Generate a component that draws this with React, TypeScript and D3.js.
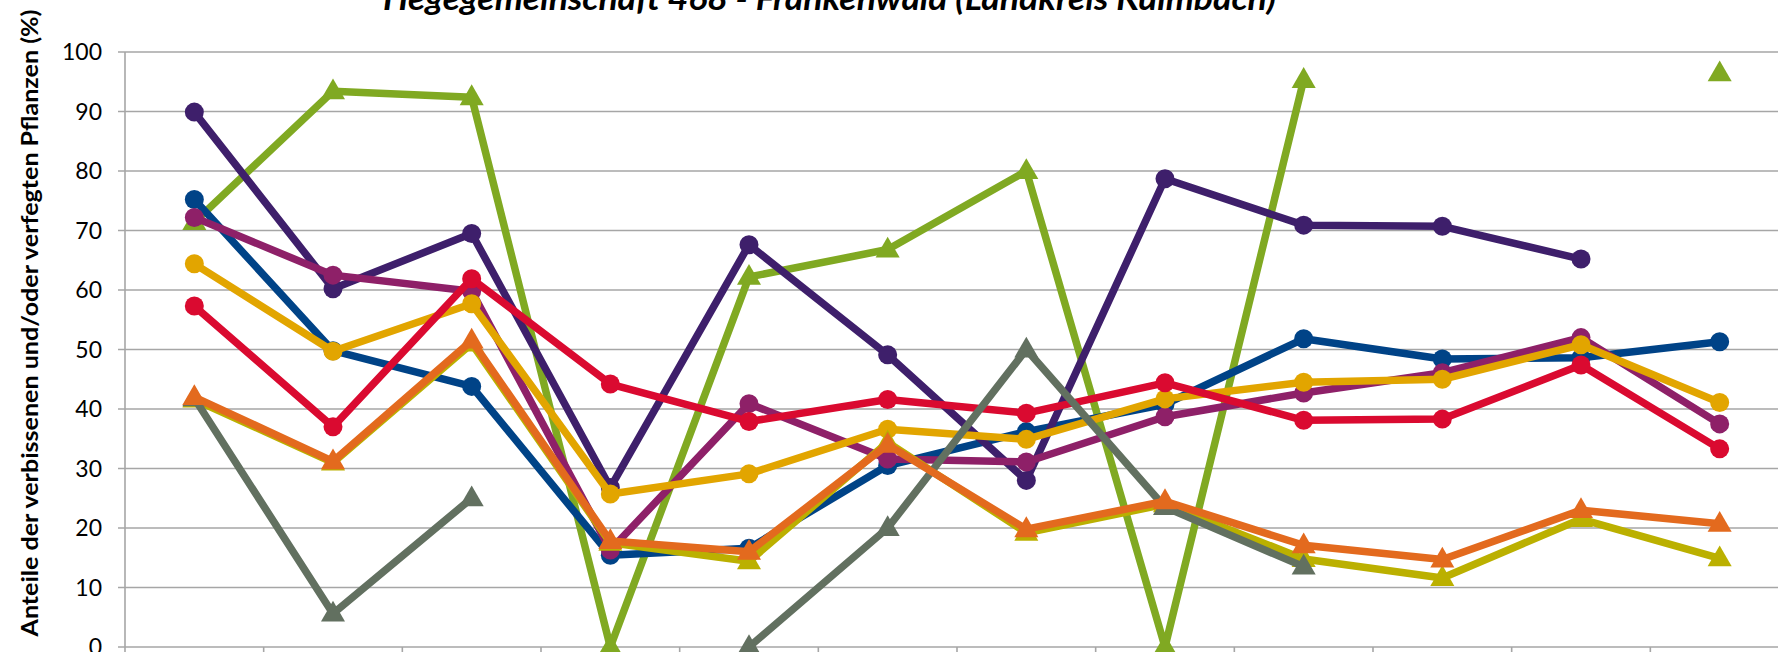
import React, { useEffect, useRef } from 'react';
import * as d3 from 'd3';

// Aufnahmejahre des Forstlichen Gutachtens (Beschriftung liegt außerhalb des Bildes)
const years = ['1991', '1994', '1997', '2000', '2003', '2006', '2009', '2012', '2015', '2018', '2021', '2024'];

const yTicks = [0, 10, 20, 30, 40, 50, 60, 70, 80, 90, 100];

type Val = number | null;

// Laubbäume (Kreise)
const buche: Val[] = [75.2, 49.8, 43.8, 15.4, 16.6, 30.5, 36.2, 40.8, 51.8, 48.4, 48.6, 51.3];
const eiche: Val[] = [89.9, 60.2, 69.5, 26.8, 67.6, 49.1, 28.0, 78.7, 70.9, 70.7, 65.2, null];
const edellaub: Val[] = [72.2, 62.5, 59.8, 16.3, 40.9, 31.6, 31.1, 38.7, 42.7, 46.1, 52.0, 37.5];
const laubGesamt: Val[] = [64.4, 49.7, 57.7, 25.7, 29.1, 36.6, 34.9, 41.7, 44.5, 45.0, 50.8, 41.1];
const sonstLaub: Val[] = [57.3, 37.0, 61.9, 44.2, 37.9, 41.6, 39.3, 44.4, 38.1, 38.3, 47.4, 33.3];

// Nadelbäume (Dreiecke)
const tanne: Val[] = [71.4, 93.4, 92.4, 0, 62.2, 66.8, 80.0, 0, 95.3, null, null, 96.4];
const kiefer: Val[] = [41.8, 5.6, 25.0, null, 0, 20.0, 50.0, 23.5, 13.5, null, null, null];
const nadelGesamt: Val[] = [41.6, 31.0, 51.0, 17.5, 14.4, 34.4, 19.2, 24.0, 14.8, 11.6, 21.5, 14.9];
const fichte: Val[] = [42.0, 31.2, 51.5, 17.8, 16.0, 34.0, 19.8, 24.5, 17.1, 14.7, 23.0, 20.7];

interface Series {
    name: string;
    values: Val[];
    color: string;
    shape: 'circle' | 'triangle';
}

// Zeichenreihenfolge: spätere liegen oben
const series: Series[] = [
    { name: 'Tanne', values: tanne, color: '#80a922', shape: 'triangle' },
    { name: 'Buche', values: buche, color: '#004387', shape: 'circle' },
    { name: 'Eiche', values: eiche, color: '#3e1f6b', shape: 'circle' },
    { name: 'Edellaubbäume', values: edellaub, color: '#8e2068', shape: 'circle' },
    { name: 'Laubbäume gesamt', values: laubGesamt, color: '#e2a500', shape: 'circle' },
    { name: 'Sonstige Laubbäume', values: sonstLaub, color: '#da0a30', shape: 'circle' },
    { name: 'Nadelbäume gesamt', values: nadelGesamt, color: '#bbb000', shape: 'triangle' },
    { name: 'Kiefer', values: kiefer, color: '#627060', shape: 'triangle' },
    { name: 'Fichte', values: fichte, color: '#e36a1e', shape: 'triangle' },
];

const W = 1778;
const H = 652;
const margin = { left: 125, top: 52, right: -11, bottom: 5 };

const App: React.FC = () => {
    const svgRef = useRef<SVGSVGElement>(null);

    useEffect(() => {
        if (!svgRef.current) return;
        const svg = d3.select(svgRef.current);
        svg.selectAll('*').remove();

        const x0 = margin.left;
        const x1 = W - margin.right;
        const y0 = H - margin.bottom;
        const y1 = margin.top;

        const x = d3.scaleBand<string>().domain(years).range([x0, x1]);
        const y = d3.scaleLinear().domain([0, 100]).range([y0, y1]);
        const cx = (i: number) => (x(years[i]) as number) + x.bandwidth() / 2;

        // Gitternetz
        svg.append('g')
            .selectAll('line')
            .data(yTicks)
            .join('line')
            .attr('x1', x0 - 7)
            .attr('x2', W)
            .attr('y1', (d) => y(d))
            .attr('y2', (d) => y(d))
            .attr('stroke', '#a6a6a6')
            .attr('stroke-width', 1.6);

        // y-Achse
        svg.append('line')
            .attr('x1', x0).attr('x2', x0)
            .attr('y1', y1).attr('y2', H)
            .attr('stroke', '#a6a6a6').attr('stroke-width', 1.6);

        // x-Achse Teilstriche
        svg.append('g')
            .selectAll('line')
            .data(years.slice(1))
            .join('line')
            .attr('x1', (d) => x(d) as number)
            .attr('x2', (d) => x(d) as number)
            .attr('y1', y0)
            .attr('y2', y0 + 8)
            .attr('stroke', '#a6a6a6')
            .attr('stroke-width', 1.6);

        // Tick-Beschriftung
        svg.append('g')
            .selectAll('text')
            .data(yTicks)
            .join('text')
            .attr('x', 102)
            .attr('y', (d) => y(d))
            .attr('dy', '0.36em')
            .attr('text-anchor', 'end')
            .attr('font-family', 'Lato, sans-serif')
            .attr('font-size', 23)
            .attr('fill', '#000')
            .text((d) => d);

        const line = d3.line<Val>()
            .defined((d) => d !== null)
            .x((_d, i) => cx(i))
            .y((d) => y(d as number));

        const tri = d3.symbol().type(d3.symbolTriangle).size(250);

        series.forEach((s) => {
            const g = svg.append('g');
            g.append('path')
                .attr('d', line(s.values) || '')
                .attr('fill', 'none')
                .attr('stroke', s.color)
                .attr('stroke-width', 7.5)
                .attr('stroke-linejoin', 'round');

            const pts = s.values
                .map((v, i) => ({ v, i }))
                .filter((p) => p.v !== null);

            if (s.shape === 'circle') {
                g.selectAll('circle')
                    .data(pts)
                    .join('circle')
                    .attr('cx', (p) => cx(p.i))
                    .attr('cy', (p) => y(p.v as number))
                    .attr('r', 9.5)
                    .attr('fill', s.color);
            } else {
                g.selectAll('path.m')
                    .data(pts)
                    .join('path')
                    .attr('class', 'm')
                    .attr('d', tri() || '')
                    .attr('transform', (p) => `translate(${cx(p.i)},${y(p.v as number) + 1})`)
                    .attr('fill', s.color);
            }
        });

        // Titel (oben abgeschnitten)
        svg.append('text')
            .attr('x', 383)
            .attr('y', 10)
            .attr('textLength', 893)
            .attr('lengthAdjust', 'spacingAndGlyphs')
            .attr('font-family', 'Lato, sans-serif')
            .attr('font-size', 33)
            .attr('font-weight', 'bold')
            .attr('font-style', 'italic')
            .text('Hegegemeinschaft 468 - Frankenwald (Landkreis Kulmbach)');

        // y-Achsentitel
        svg.append('text')
            .attr('transform', 'translate(38,323) rotate(-90)')
            .attr('text-anchor', 'middle')
            .attr('textLength', 627)
            .attr('lengthAdjust', 'spacingAndGlyphs')
            .attr('font-family', 'Lato, sans-serif')
            .attr('font-size', 22)
            .attr('font-weight', 'bold')
            .text('Anteile der verbissenen und/oder verfegten Pflanzen (%)');
    }, []);

    return (
        <div>
            <style>{`body{margin:0;overflow:hidden}`}</style>
            <svg ref={svgRef} width={W} height={H} style={{ display: 'block', background: '#fff' }} />
        </div>
    );
};

export default App;
